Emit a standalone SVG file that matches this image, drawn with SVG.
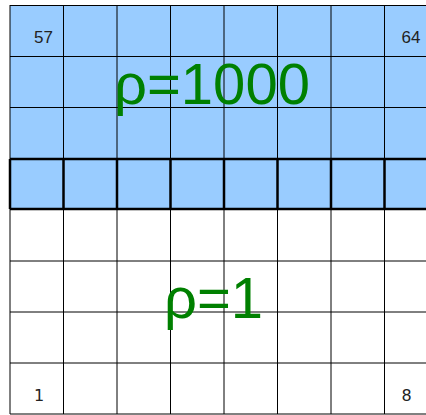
<svg xmlns="http://www.w3.org/2000/svg" width="426" height="415" viewBox="0 0 426 415">
<style>
.g{stroke:#000;stroke-width:1;fill:none}
.t{stroke:#000;stroke-width:2.5;fill:none}
.n{font-family:"Liberation Sans",Arial,sans-serif;font-size:17px;fill:#222}
.m{font-family:"DejaVu Sans",sans-serif;font-size:16px;fill:#222}
.r{font-family:"Liberation Sans",Arial,sans-serif;font-size:58px;fill:#008000}
</style>
<rect id="blue" x="10" y="5" width="430" height="204" fill="#99CCFF"/>
<g id="grid" class="g">
<path d="M10 5V414M63.5 5V414M117 5V414M170.5 5V414M224 5V414M277.5 5V414M331 5V414M384.5 5V414"/>
<path d="M10 5.5H440M10 56.5H440M10 107.5H440M10 261H440M10 312H440M10 363H440M10 414H440"/>
</g>
<g id="thickrow" class="t">
<path d="M10 159H440M10 209H440M10 159V209M63.5 159V209M117 159V209M170.5 159V209M224 159V209M277.5 159V209M331 159V209M384.5 159V209"/>
</g>
<g id="labels">
<text class="n" x="34" y="43">57</text>
<text class="n" x="401.5" y="43">64</text>
<text class="m" x="34" y="401">1</text>
<text class="m" x="401.5" y="401">8</text>
<text class="r" x="114" y="104">ρ=1000</text>
<text class="r" x="164" y="318">ρ=1</text>
</g>
</svg>
